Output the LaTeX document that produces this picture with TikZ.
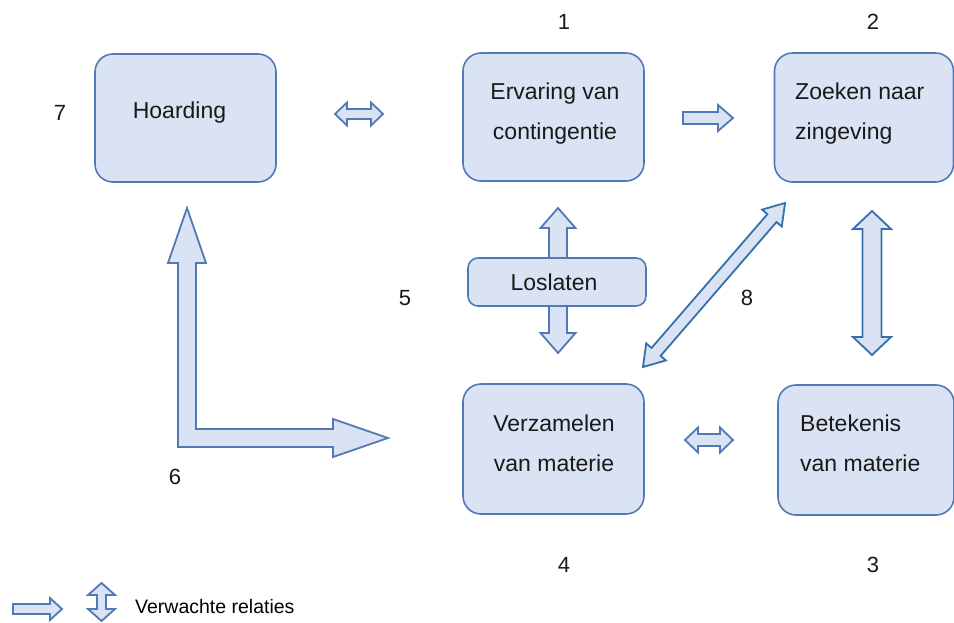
\documentclass[tikz,border=0pt]{standalone}
\usepackage{fontspec}
\setmainfont{Liberation Sans}
\definecolor{boxfill}{HTML}{DAE3F3}
\definecolor{boxline}{HTML}{5279B5}
\definecolor{arrline}{HTML}{3470AC}
\tikzset{
  box/.style={draw=boxline, fill=boxfill, line width=1.6pt, rounded corners=18pt, inner sep=0pt},
  txt/.style={font=\fontsize{23}{40}\selectfont, text=black!90, inner sep=0pt},
  num/.style={font=\fontsize{22}{26}\selectfont, text=black!90, inner sep=0pt},
  blk/.style={draw=boxline, fill=boxfill, line width=1.8pt, line join=miter},
  blk2/.style={draw=arrline, fill=boxfill, line width=1.8pt, line join=miter},
  pics/dbl/.style args={#1/#2/#3/#4/#5}{code={
    \draw[#5] (-#1,0) -- ({-#1+#4},{-#3}) -- ({-#1+#4},{-#2}) -- ({#1-#4},{-#2})
      -- ({#1-#4},{-#3}) -- (#1,0) -- ({#1-#4},{#3}) -- ({#1-#4},{#2})
      -- ({-#1+#4},{#2}) -- ({-#1+#4},{#3}) -- cycle;
  }},
  pics/sgl/.style args={#1/#2/#3/#4/#5}{code={
    \draw[#5] (-#1,{-#2}) -- ({#1-#4},{-#2}) -- ({#1-#4},{-#3}) -- (#1,0)
      -- ({#1-#4},{#3}) -- ({#1-#4},{#2}) -- (-#1,{#2}) -- cycle;
  }},
}
\begin{document}
\begin{tikzpicture}[x=1pt,y=-1pt]
\useasboundingbox (0,0) rectangle (954,622);

% boxes
\node[box, minimum width=181pt, minimum height=128pt] (hoard) at (185.5,118) {};
\node[box, minimum width=181pt, minimum height=128pt] (erv) at (553.5,117) {};
\node[box, minimum width=179pt, minimum height=129pt] (zoek) at (864,117.5) {};
\node[box, minimum width=181pt, minimum height=130pt] (verz) at (553.5,449) {};
\node[box, minimum width=176pt, minimum height=130pt] (bet) at (866,450) {};

% texts
\node[txt] (thoard) at (179.5,113) {Hoarding};
\node[txt, align=center] (terv) at (555,114) {Ervaring van\\contingentie};
\node[txt, align=left, anchor=west] (tzoek) at (795,114) {Zoeken naar\\zingeving};
\node[txt, align=center] (tverz) at (554,443) {Verzamelen\\van materie};
\node[txt, align=left, anchor=west] (tbet) at (800,443.5) {Betekenis\\van materie};

% numbers
\node[num] (n1) at (564,22) {1};
\node[num] (n2) at (873,22) {2};
\node[num] (n7) at (60,113) {7};
\node[num] (n5) at (405,298) {5};
\node[num] (n8) at (747,298) {8};
\node[num] (n6) at (175,477) {6};
\node[num] (n4) at (564,565) {4};
\node[num] (n3) at (873,565) {3};

% block arrows
\pic (a1) at (359,114) {dbl={24/5/11.5/12/blk}};
\pic (a2) at (708,118) {sgl={25/6/13/15/blk}};
\pic (a3) at (709,440) {dbl={24/6/12.5/13/blk}};
\pic[rotate=90] (a4) at (558,280.5) {dbl={72.5/9/17.5/20/blk}};
\pic[rotate=90] (a5) at (872,283) {dbl={72/9.5/19/18/blk2}};
\pic[rotate=49.1] (a6) at (714,285) {dbl={108.5/6/13/20/blk2}};

% Loslaten box on top of vertical arrow
\node[box, rounded corners=10pt, minimum width=178pt, minimum height=48pt] (los) at (557,282) {};
\node[txt] (tlos) at (554,282) {Loslaten};

% L-shaped arrow
\draw[blk] (178,447) -- (178,263) -- (168,263) -- (187,208) -- (206,263) -- (196,263)
  -- (196,429) -- (333,429) -- (333,419) -- (388,438) -- (333,457) -- (333,447) -- cycle;

% legend
\pic (lg1) at (37.5,609) {sgl={24.5/5/11/12/blk}};
\pic[rotate=90] (lg2) at (101.5,602) {dbl={19/4.5/13.5/12/blk}};
\node[font=\fontsize{19.5}{22}\selectfont, anchor=west, inner sep=0pt] (leg) at (135,607) {Verwachte relaties};
\end{tikzpicture}
\end{document}
